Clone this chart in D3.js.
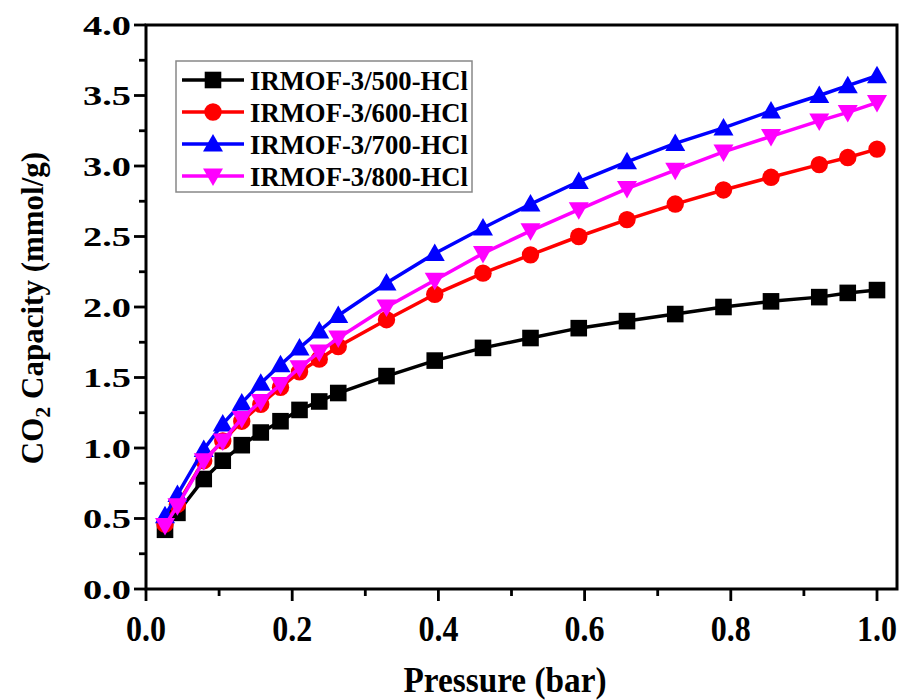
<!DOCTYPE html>
<html>
<head>
<meta charset="utf-8">
<script src="https://cdn.jsdelivr.net/npm/d3@7"></script>
<style>
  html, body { margin: 0; padding: 0; background: #fff; }
  svg { display: block; }
  text { font-family: "Liberation Serif", "Times New Roman", serif; font-weight: bold; fill: #000; }
</style>
</head>
<body>
<svg id="chart" width="901" height="700"></svg>
<script>
// Pressure points (bar), shared by all four isotherms
const pressure = [0.026, 0.043, 0.079, 0.105, 0.131, 0.157, 0.184, 0.210, 0.237, 0.263,
                  0.329, 0.395, 0.461, 0.526, 0.592, 0.658, 0.724, 0.790, 0.855, 0.921, 0.960, 1.000];

// CO2 uptake (mmol/g) for each sample
const hcl500 = [0.42, 0.54, 0.78, 0.91, 1.02, 1.11, 1.19, 1.27, 1.33, 1.39, 1.51, 1.62,
                1.71, 1.78, 1.85, 1.90, 1.95, 2.00, 2.04, 2.07, 2.10, 2.12];
const hcl600 = [0.46, 0.60, 0.91, 1.05, 1.19, 1.31, 1.43, 1.54, 1.63, 1.72, 1.91, 2.09,
                2.24, 2.37, 2.50, 2.62, 2.73, 2.83, 2.92, 3.01, 3.06, 3.12];
const hcl700 = [0.52, 0.67, 0.99, 1.17, 1.32, 1.46, 1.59, 1.71, 1.83, 1.94, 2.17, 2.38,
                2.56, 2.73, 2.89, 3.03, 3.16, 3.27, 3.39, 3.50, 3.57, 3.64];
const hcl800 = [0.45, 0.59, 0.91, 1.05, 1.21, 1.33, 1.45, 1.57, 1.68, 1.78, 2.00, 2.19,
                2.38, 2.54, 2.69, 2.84, 2.97, 3.10, 3.21, 3.32, 3.38, 3.45];

const seriesNames = ["IRMOF-3/500-HCl", "IRMOF-3/600-HCl", "IRMOF-3/700-HCl", "IRMOF-3/800-HCl"];
const seriesColors = ["#000000", "#ff0000", "#0000ff", "#ff00ff"];
const seriesSymbols = ["square", "circle", "triangleUp", "triangleDown"];
const seriesValues = [hcl500, hcl600, hcl700, hcl800];

const xTicks = [0.0, 0.2, 0.4, 0.6, 0.8, 1.0];
const yTicks = [0.0, 0.5, 1.0, 1.5, 2.0, 2.5, 3.0, 3.5, 4.0];

const svg = d3.select("#chart");
const plot = { left: 146, right: 897, top: 25, bottom: 589 };

const x = d3.scaleLinear().domain([0, 1.0]).range([plot.left, 877]);
const y = d3.scaleLinear().domain([0, 4]).range([plot.bottom, plot.top]);

// marker shapes
function symbolPath(kind, cx, cy) {
  const s = 8.3;
  if (kind === "square") return `M${cx - s},${cy - s}h${2 * s}v${2 * s}h${-2 * s}Z`;
  if (kind === "circle") return `M${cx - 8.7},${cy}a8.7,8.7 0 1,0 17.4,0a8.7,8.7 0 1,0 -17.4,0Z`;
  const h = 10, w = 10;
  if (kind === "triangleUp") return `M${cx},${cy - h}L${cx + w},${cy + h * 0.75}L${cx - w},${cy + h * 0.75}Z`;
  return `M${cx},${cy + h}L${cx + w},${cy - h * 0.75}L${cx - w},${cy - h * 0.75}Z`;
}

// minor ticks
const xMinor = d3.range(0, 10.5).map(i => i / 10).filter(v => !xTicks.some(t => Math.abs(t - v) < 1e-9));
const yMinor = d3.range(0, 16.5).map(i => i / 4).filter(v => !yTicks.some(t => Math.abs(t - v) < 1e-9));

const axes = svg.append("g");
axes.selectAll("line.xmaj").data(xTicks).join("line")
  .attr("x1", d => x(d)).attr("x2", d => x(d))
  .attr("y1", plot.bottom).attr("y2", plot.bottom + 12)
  .attr("stroke", "#000").attr("stroke-width", 2.8);
axes.selectAll("line.xmin").data(xMinor).join("line")
  .attr("x1", d => x(d)).attr("x2", d => x(d))
  .attr("y1", plot.bottom).attr("y2", plot.bottom + 7)
  .attr("stroke", "#000").attr("stroke-width", 2.8);
axes.selectAll("line.ymaj").data(yTicks).join("line")
  .attr("x1", plot.left - 12).attr("x2", plot.left)
  .attr("y1", d => y(d)).attr("y2", d => y(d))
  .attr("stroke", "#000").attr("stroke-width", 2.8);
axes.selectAll("line.ymin").data(yMinor).join("line")
  .attr("x1", plot.left - 7).attr("x2", plot.left)
  .attr("y1", d => y(d)).attr("y2", d => y(d))
  .attr("stroke", "#000").attr("stroke-width", 2.8);

// frame
svg.append("rect")
  .attr("x", plot.left).attr("y", plot.top)
  .attr("width", plot.right - plot.left).attr("height", plot.bottom - plot.top)
  .attr("fill", "none").attr("stroke", "#000").attr("stroke-width", 3);

// tick labels
svg.append("g").selectAll("text").data(yTicks).join("text")
  .attr("x", 131).attr("y", d => y(d) + 9.5)
  .attr("text-anchor", "end")
  .attr("font-size", 28)
  .attr("textLength", 48).attr("lengthAdjust", "spacingAndGlyphs")
  .text(d => d.toFixed(1));
svg.append("g").selectAll("text").data(xTicks).join("text")
  .attr("x", d => x(d)).attr("y", 641)
  .attr("text-anchor", "middle")
  .attr("font-size", 36)
  .attr("textLength", 40).attr("lengthAdjust", "spacingAndGlyphs")
  .text(d => d.toFixed(1));

// axis titles
svg.append("text")
  .attr("x", 505).attr("y", 692)
  .attr("text-anchor", "middle")
  .attr("font-size", 35)
  .attr("textLength", 203).attr("lengthAdjust", "spacingAndGlyphs")
  .text("Pressure (bar)");
const yt = svg.append("text")
  .attr("transform", "translate(43,308) rotate(-90)")
  .attr("text-anchor", "middle")
  .attr("font-size", 31);
yt.append("tspan").text("CO");
yt.append("tspan").attr("dy", 7).attr("font-size", 22).text("2");
yt.append("tspan").attr("dy", -7).text(" Capacity (mmol/g)");

// curves
const line = d3.line().x((d, i) => x(pressure[i])).y(d => y(d));
const series = svg.append("g");
seriesValues.forEach((vals, k) => {
  const g = series.append("g");
  g.append("path").attr("d", line(vals))
    .attr("fill", "none").attr("stroke", seriesColors[k]).attr("stroke-width", 3.5);
  g.selectAll("path.m").data(vals).join("path").attr("class", "m")
    .attr("d", (d, i) => symbolPath(seriesSymbols[k], x(pressure[i]), y(d)))
    .attr("fill", seriesColors[k]);
});

// legend
const leg = svg.append("g");
leg.append("rect").attr("x", 176).attr("y", 61).attr("width", 296).attr("height", 131)
  .attr("fill", "#fff").attr("stroke", "#888").attr("stroke-width", 1.5);
seriesNames.forEach((name, k) => {
  const cy = 80 + k * 32;
  leg.append("line").attr("x1", 182).attr("x2", 244).attr("y1", cy).attr("y2", cy)
    .attr("stroke", seriesColors[k]).attr("stroke-width", 3.5);
  leg.append("path").attr("d", symbolPath(seriesSymbols[k], 213, cy)).attr("fill", seriesColors[k]);
  leg.append("text").attr("x", 250).attr("y", cy + 9.5).attr("font-size", 27)
    .attr("textLength", 218).attr("lengthAdjust", "spacingAndGlyphs")
    .text(name);
});
</script>
</body>
</html>
